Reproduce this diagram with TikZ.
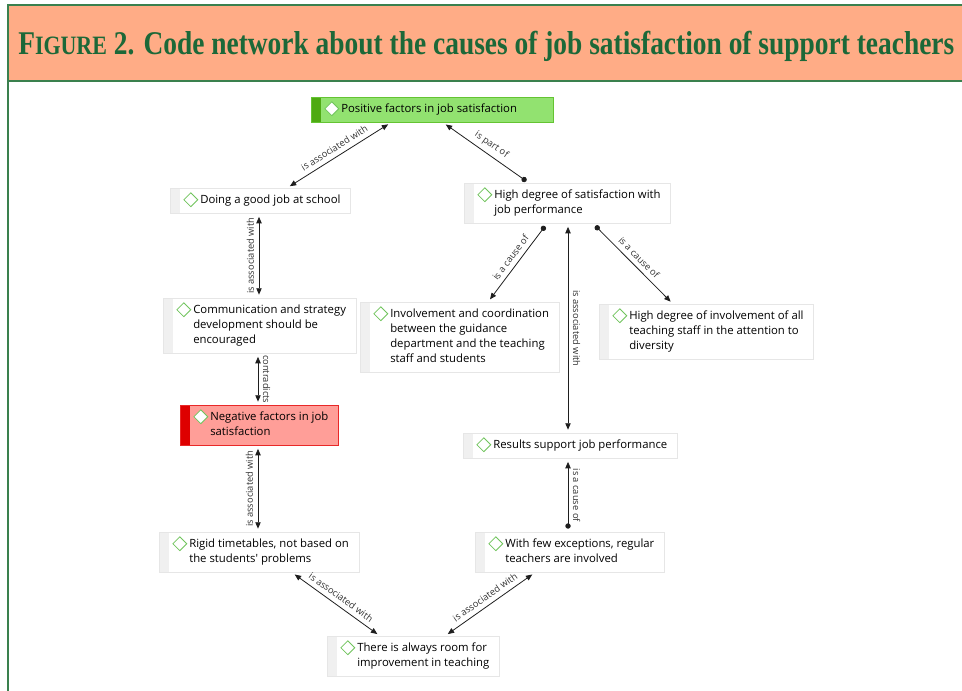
\documentclass[tikz,border=0pt]{standalone}
\usepackage{fontspec}
\usetikzlibrary{arrows.meta,calc}
\newfontfamily\atlasfamily{Open Sans}
\newfontfamily\titlefamily{Liberation Serif}
\newcommand{\codefont}{\atlasfamily\fontsize{8.5}{11.25}\selectfont}
\newcommand{\linkfont}{\atlasfamily\fontsize{7}{8.4}\selectfont}
\newcommand{\codelines}[1]{\begin{tabular}[t]{@{}l@{}}#1\end{tabular}}
\definecolor{headFill}{RGB}{255,172,134}
\definecolor{frameGreen}{RGB}{58,128,78}
\definecolor{titleGreen}{RGB}{28,104,56}
\definecolor{boxLine}{RGB}{230,230,230}
\definecolor{barGray}{RGB}{240,240,240}
\definecolor{iconGreen}{RGB}{112,196,92}
\definecolor{posFill}{RGB}{146,226,112}
\definecolor{posBar}{RGB}{78,170,18}
\definecolor{posLine}{RGB}{100,196,50}
\definecolor{negFill}{RGB}{255,158,152}
\definecolor{negBar}{RGB}{222,0,0}
\definecolor{negLine}{RGB}{232,40,40}
\definecolor{linkGray}{RGB}{30,30,30}
\definecolor{labelGray}{RGB}{50,50,50}

\begin{document}
\begin{tikzpicture}[x=0.75pt, y=-0.75pt,
            >={Triangle[length=4.8pt,width=4pt]},
            codebar/.style={path picture={
                \fill[#1] (path picture bounding box.south west) rectangle ([xshift=7.5pt]path picture bounding box.north west);
                \draw[iconGreen, fill=white, line width=0.6pt] ([shift={(10.2pt,-8.6pt)}]path picture bounding box.north west)
                    -- ++(5.2pt,5.2pt) -- ++(5.2pt,-5.2pt) -- ++(-5.2pt,-5.2pt) -- cycle;}},
            code/.style={draw=boxLine, fill=white, anchor=north west, inner xsep=7.5pt, inner ysep=3.75pt,
                font=\codefont, codebar=barGray, execute at begin node={\hspace*{15pt}}},
            codePos/.style={code, draw=posLine, fill=posFill, codebar=posBar},
            codeNeg/.style={code, draw=negLine, fill=negFill, codebar=negBar},
            link/.style={draw=linkGray, line width=0.6pt, shorten <=2.5pt, shorten >=2.5pt},
            both/.style={link, <->},
            cause/.style={link, {Circle[length=4pt]}->},
            lbl/.style={font=\linkfont, text=labelGray, inner sep=3.5pt}]

            \useasboundingbox (0,0) rectangle (962,691);
            \draw[frameGreen, line width=1.2pt, fill=headFill] (8,5) rectangle (980,81);
            \draw[frameGreen, line width=1.2pt] (8,81) -- (8,695);
            \node[anchor=base west, inner sep=0, text=titleGreen] (title) at (18,55)
                {\resizebox{702pt}{17.5pt}{\titlefamily\bfseries F{\footnotesize IGURE} 2. Code network about the causes of job satisfaction of support teachers}};

            \node[codePos] (positive) at (311,97) {\codelines{Positive factors in job satisfaction}\hspace*{19.5pt}};
            \node[code] (doing) at (170,188) {\codelines{Doing a good job at school}};
            \node[code] (satisf) at (464,183) {\codelines{High degree of satisfaction with\\job performance}};
            \node[code] (commun) at (163,298) {\codelines{Communication and strategy\\development should be\\encouraged}};
            \node[code] (involv) at (360,302) {\codelines{Involvement and coordination\\between the guidance\\department and the teaching\\staff and students}};
            \node[code] (allstaff) at (599,304) {\codelines{High degree of involvement of all\\teaching staff in the attention to\\diversity}};
            \node[codeNeg] (negative) at (180,405) {\codelines{Negative factors in job\\satisfaction}};
            \node[code] (results) at (463,433) {\codelines{Results support job performance}};
            \node[code] (rigid) at (159,532) {\codelines{Rigid timetables, not based on\\the students' problems}};
            \node[code] (regular) at (475,532) {\codelines{With few exceptions, regular\\teachers are involved}};
            \node[code] (improve) at (327,636) {\codelines{There is always room for\\improvement in teaching}};

            \draw[both] ($(doing.north west)+(117,0)$) -- ($(positive.south west)+(80,0)$) node[lbl, midway, sloped, above] {is associated with};
            \draw[cause] ($(satisf.north west)+(65,0)$) -- ($(positive.south west)+(132,0)$) node[lbl, midway, sloped, above] {is part of};
            \draw[both] ($(doing.south west)+(89,0)$) -- ($(commun.north west)+(96,0)$) node[lbl, midway, rotate=90, anchor=south] {is associated with};
            \draw[both] ($(commun.south west)+(95,0)$) -- ($(negative.north west)+(78,0)$) node[lbl, midway, rotate=-90, anchor=south] {contradicts};
            \draw[both] ($(negative.south west)+(78,0)$) -- ($(rigid.north west)+(99,0)$) node[lbl, midway, rotate=90, anchor=south] {is associated with};
            \draw[cause] ($(satisf.south west)+(83,0)$) -- ($(involv.north west)+(128,0)$) node[lbl, midway, sloped, above] {is a cause of};
            \draw[cause] ($(satisf.south west)+(129,0)$) -- ($(allstaff.north west)+(74,0)$) node[lbl, midway, sloped, above] {is a cause of};
            \draw[both] ($(satisf.south west)+(104,0)$) -- ($(results.north west)+(105,0)$) node[lbl, midway, rotate=-90, anchor=south] {is associated with};
            \draw[cause] ($(regular.north west)+(93,0)$) -- ($(results.south west)+(105,0)$) node[lbl, midway, rotate=-90, anchor=south] {is a cause of};
            \draw[both] ($(rigid.south west)+(133,0)$) -- ($(improve.north west)+(53,0)$) node[lbl, midway, sloped, above] {is associated with};
            \draw[both] ($(regular.south west)+(60,0)$) -- ($(improve.north west)+(118,0)$) node[lbl, midway, sloped, above] {is associated with};

\end{tikzpicture}
\end{document}
